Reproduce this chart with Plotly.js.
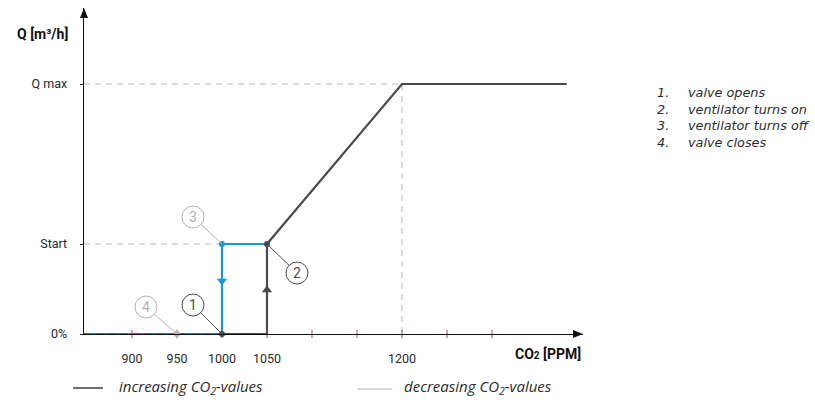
<!DOCTYPE html>
<html>
<head>
<meta charset="utf-8">
<script src="https://cdn.plot.ly/plotly-3.0.1.min.js"></script>
<style>html,body{margin:0;padding:0;background:#fff;}#chart{width:815px;height:403px;}</style>
</head>
<body>
<div id="chart"></div>
<script>
// ---- data ----
const levelZero = 0;
const levelStart = 36;
const levelQmax = 100;

const xTickVals = [900, 950, 1000, 1050, 1200];
const xTickText = ["900", "950", "1000", "1050", "1200"];
const xMinorTicks = [900, 950, 1000, 1050, 1100, 1150, 1200, 1250, 1300];
const yTickVals = [levelZero, levelStart, levelQmax];
const yTickText = ["0%", "Start", "Q max"];

const xIncreasing = [1000, 1050, 1050, 1200, 1383];
const yIncreasing = [levelZero, levelZero, levelStart, levelQmax, levelQmax];
const xIncreasingDashed = [846.7, 1000];
const yIncreasingDashed = [levelZero, levelZero];

const xDecreasing = [1050, 1000, 1000, 846.7];
const yDecreasing = [levelStart, levelStart, levelZero, levelZero];

const xGuideQmax = [846.7, 1200, 1200];
const yGuideQmax = [levelQmax, levelQmax, levelZero];
const xGuideStart = [846.7, 1000];
const yGuideStart = [levelStart, levelStart];

// callout points: 1 valve opens, 2 ventilator on, 3 ventilator off, 4 valve closes
const calloutLabels = ["1", "2", "3", "4"];
const calloutX = [1000, 1050, 1000, 950];
const calloutY = [levelZero, levelStart, levelStart, levelZero];

const arrowUpX = [1050], arrowUpY = [17.6];
const arrowDownX = [1000], arrowDownY = [21.2];

const listNumbers = ["1.", "2.", "3.", "4."];
const listTexts = ["valve opens", "ventilator turns on", "ventilator turns off", "valve closes"];

// ---- styles ----
const DARK = "#4b4b4b";
const BLUE = "#1898d5";
const LIGHT = "#b3b3b3";
const GUIDE = "#b8b8b8";
const TXT = "#2b2b2b";
const FONT = "Roboto, 'DejaVu Sans', sans-serif";
const IFONT = "'Open Sans', Roboto, sans-serif";
const LFONT = "'DejaVu Sans', 'Open Sans', sans-serif";

const traces = [
  {x: xGuideQmax, y: yGuideQmax, mode: "lines", line: {color: GUIDE, width: 1, dash: "6px,5px"}, hoverinfo: "skip"},
  {x: xGuideStart, y: yGuideStart, mode: "lines", line: {color: GUIDE, width: 1, dash: "6px,5px"}, hoverinfo: "skip"},
  {x: xDecreasing, y: yDecreasing, mode: "lines", line: {color: BLUE, width: 2.2}, hoverinfo: "skip"},
  {x: xIncreasing, y: yIncreasing, mode: "lines", line: {color: DARK, width: 2.2}, hoverinfo: "skip"},
  {x: xIncreasingDashed, y: yIncreasingDashed, mode: "lines", line: {color: "#666", width: 2.2, dash: "7px,5px"}, hoverinfo: "skip"},
  {x: xMinorTicks, y: xMinorTicks.map(() => levelZero), mode: "markers", cliponaxis: false,
   marker: {symbol: "line-ns-open", size: 6, line: {color: "#222", width: 1}}, hoverinfo: "skip"},
  {x: arrowDownX, y: arrowDownY, mode: "markers", marker: {symbol: "triangle-down", size: 9, color: BLUE}, hoverinfo: "skip"},
  {x: arrowUpX, y: arrowUpY, mode: "markers", marker: {symbol: "triangle-up", size: 9, color: DARK}, hoverinfo: "skip"},
  {x: [calloutX[0], calloutX[1]], y: [calloutY[0], calloutY[1]], mode: "markers", cliponaxis: false, marker: {size: 6, color: DARK}, hoverinfo: "skip"},
  {x: [calloutX[2]], y: [calloutY[2]], mode: "markers", marker: {size: 6, color: BLUE}, hoverinfo: "skip"},
  {x: [calloutX[3]], y: [calloutY[3]], mode: "markers", cliponaxis: false, marker: {size: 6, color: LIGHT}, hoverinfo: "skip"}
];

// callout geometry (pixel offsets from the pointed-at mark, y upward)
const calloutOffsets = [[-29, 29], [30, -29], [-29, 27], [-31, 27]];
const calloutColors = [DARK, DARK, LIGHT, LIGHT];
const R = 11;

const shapes = [];
const annotations = [];
calloutLabels.forEach((lab, i) => {
  const [dx, dy] = calloutOffsets[i];
  const d = Math.hypot(dx, dy);
  const ex = dx - R * dx / d, ey = dy - R * dy / d;
  shapes.push({type: "circle", xref: "x", yref: "y", xsizemode: "pixel", ysizemode: "pixel",
    xanchor: calloutX[i], yanchor: calloutY[i], x0: dx - R, x1: dx + R, y0: dy - R, y1: dy + R,
    line: {color: calloutColors[i], width: 1}, fillcolor: "rgba(255,255,255,0)"});
  shapes.push({type: "line", xref: "x", yref: "y", xsizemode: "pixel", ysizemode: "pixel",
    xanchor: calloutX[i], yanchor: calloutY[i], x0: 0, y0: 0, x1: ex, y1: ey,
    line: {color: calloutColors[i], width: 1}});
  annotations.push({x: calloutX[i], y: calloutY[i], xref: "x", yref: "y", text: lab, showarrow: false,
    xshift: dx, yshift: dy, font: {family: FONT, size: 14, color: calloutColors[i]}});
});

// axis arrowheads
shapes.push({type: "path", xref: "paper", yref: "paper", xsizemode: "pixel", ysizemode: "pixel",
  xanchor: 0, yanchor: 1, path: "M-4,-10 L0,0 L4,-10 Z", fillcolor: "#111", line: {width: 0}});
shapes.push({type: "path", xref: "paper", yref: "paper", xsizemode: "pixel", ysizemode: "pixel",
  xanchor: 1, yanchor: 0, path: "M-10,-4 L0,0 L-10,4 Z", fillcolor: "#111", line: {width: 0}});

// axis titles
annotations.push({xref: "paper", yref: "paper", x: 0, y: 1, xanchor: "right", yanchor: "middle",
  xshift: -14, yshift: -26, showarrow: false, text: "<b>Q [m³/h]</b>", font: {family: FONT, size: 14, color: "#111"}});
annotations.push({xref: "paper", yref: "paper", x: 1, y: 0, xanchor: "right", yanchor: "middle",
  xshift: 0, yshift: -20, showarrow: false, text: "<b>CO<span style='font-size:10px'>2</span> [PPM]</b>", font: {family: FONT, size: 14, color: "#111"}});
// clipped fragment at the very top
annotations.push({xref: "paper", yref: "paper", x: 0, y: 1, xanchor: "center", yanchor: "bottom",
  xshift: 49, yshift: 3, showarrow: false, text: "<b>2</b>", font: {family: FONT, size: 12, color: "#111"}});

// legend
shapes.push({type: "line", xref: "paper", yref: "paper", xsizemode: "pixel", ysizemode: "pixel",
  xanchor: 0, yanchor: 0, x0: -11, x1: 19, y0: -54, y1: -54, line: {color: "#111", width: 1.2}});
shapes.push({type: "line", xref: "paper", yref: "paper", xsizemode: "pixel", ysizemode: "pixel",
  xanchor: 0, yanchor: 0, x0: 273, x1: 308, y0: -55, y1: -55, line: {color: LIGHT, width: 1.2}});
annotations.push({xref: "paper", yref: "paper", x: 0, y: 0, xanchor: "left", yanchor: "middle", xshift: 33, yshift: -53,
  showarrow: false, text: "<i>increasing CO<sub>2</sub>-values</i>", font: {family: IFONT, size: 15, color: TXT}});
annotations.push({xref: "paper", yref: "paper", x: 0, y: 0, xanchor: "left", yanchor: "middle", xshift: 318, yshift: -53,
  showarrow: false, text: "<i>decreasing CO<sub>2</sub>-values</i>", font: {family: IFONT, size: 15, color: TXT}});

// numbered list (two multi-line columns)
annotations.push({xref: "paper", yref: "paper", x: 0, y: 1, xanchor: "left", yanchor: "middle", align: "left",
  xshift: 571, yshift: 8 - 117.5, showarrow: false,
  text: listNumbers.map(n => "<i>" + n + "</i>").join("<br>"), font: {family: LFONT, size: 12.8, color: TXT}});
annotations.push({xref: "paper", yref: "paper", x: 0, y: 1, xanchor: "left", yanchor: "middle", align: "left",
  xshift: 602, yshift: 8 - 117.5, showarrow: false,
  text: listTexts.map(t => "<i>" + t + "</i>").join("<br>"), font: {family: LFONT, size: 12.8, color: TXT}});

const layout = {
  width: 815, height: 403,
  margin: {l: 84, r: 232, t: 8, b: 69, pad: 0},
  paper_bgcolor: "#fff", plot_bgcolor: "#fff",
  showlegend: false,
  font: {family: FONT, size: 12, color: TXT},
  xaxis: {range: [846.7, 1401.1], showgrid: false, zeroline: false, showline: true, linecolor: "#111", linewidth: 1.3,
    tickvals: xTickVals, ticktext: xTickText, ticks: "", ticklabelstandoff: 13,
    tickfont: {family: FONT, size: 12.5, color: TXT}, fixedrange: true},
  yaxis: {range: [0, 130.4], showgrid: false, zeroline: false, showline: true, linecolor: "#111", linewidth: 1.3,
    tickvals: yTickVals, ticktext: yTickText, ticks: "outside", ticklen: 3, tickcolor: "#222",
    ticklabelstandoff: 10, tickfont: {family: FONT, size: 12.5, color: TXT}, fixedrange: true},
  shapes: shapes,
  annotations: annotations
};

Plotly.newPlot("chart", traces, layout, {staticPlot: true, displayModeBar: false});
</script>
</body>
</html>
